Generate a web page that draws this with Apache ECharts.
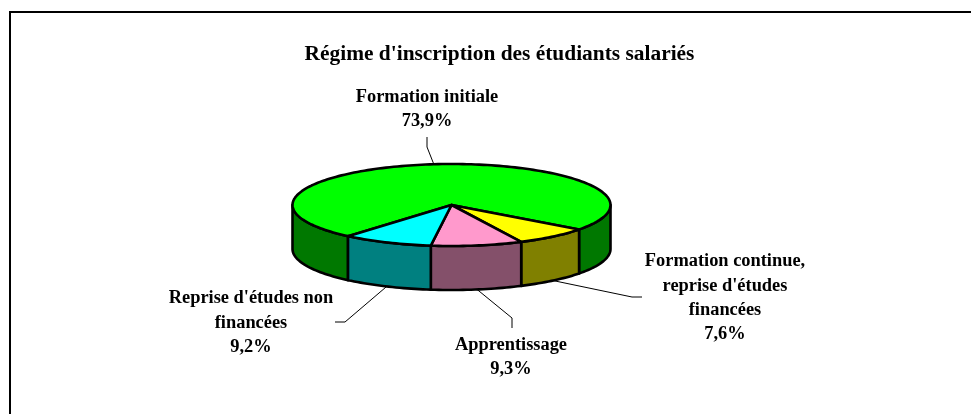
<!DOCTYPE html>
<html><head><meta charset="utf-8">
<style>html,body{margin:0;padding:0;background:#fff}#c{width:971px;height:414px}</style>
<script src="https://cdn.jsdelivr.net/npm/echarts@6/dist/echarts.min.js"></script>
</head><body><div id="c"></div>
<script>
// Data
const categories = ["Formation initiale", "Formation continue,\nreprise d'études\nfinancées", "Apprentissage", "Reprise d'études non\nfinancées"];
const shares = [73.9, 7.6, 9.3, 9.2];
const chartTitle = "Régime d'inscription des étudiants salariés";

// Styles and layout
const topColors = ['#00ff00', '#ffff00', '#ff99cc', '#00ffff'];
const sideColors = ['#007800', '#808000', '#84506a', '#008080'];
const FONT = '"Liberation Serif","Times New Roman",serif';
const CX = 451.5, CY = 205, RX = 159, RY = 41, DEPTH = 44, START = 220.6;
const labelCenters = [[427, 109], [725, 298], [511, 357.5], [251, 323]];
const leaderTails = [
  [[427, 147], [427, 137]],
  [[632, 297], [642, 297]],
  [[512, 318], [512, 328]],
  [[345, 322], [335, 322]]
];

const total = shares.reduce((a, b) => a + b, 0);
const rad = d => d * Math.PI / 180;
const pt = (deg, dy) => [CX + RX * Math.sin(rad(deg)), CY - RY * Math.cos(rad(deg)) + (dy || 0)];
function arc(a, b, dy) {
  const n = Math.max(2, Math.ceil(Math.abs(b - a) / 1.5)), out = [];
  for (let i = 0; i <= n; i++) out.push(pt(a + (b - a) * i / n, dy));
  return out;
}
function sidePoly(a, b, fill) {
  return {
    type: 'polygon', z2: 1,
    shape: { points: arc(a, b, 0).concat(arc(b, a, DEPTH)) },
    style: { fill: fill, stroke: '#000', lineWidth: 2.6, lineJoin: 'round' }
  };
}
// Visible front part of the rim is the span of clock angles 90..270 (mod 360)
function frontSpans(a, b) {
  const spans = [];
  for (const off of [0, 360]) {
    const lo = Math.max(a, 90 + off), hi = Math.min(b, 270 + off);
    if (hi > lo) spans.push([lo, hi]);
  }
  return spans;
}
function renderItem(params, api) {
  const i = params.dataIndex, value = api.value(0);
  let before = 0;
  for (let k = 0; k < i; k++) before += shares[k];
  const a = START + before / total * 360, b = a + value / total * 360, mid = (a + b) / 2;
  const children = [];
  frontSpans(a, b).forEach(s => children.push(sidePoly(s[0], s[1], sideColors[i])));
  children.push({
    type: 'polygon', z2: 2,
    shape: { points: [[CX, CY]].concat(arc(a, b, 0)) },
    style: { fill: topColors[i], stroke: '#000', lineWidth: 2.6, lineJoin: 'round' }
  });
  const m = ((mid % 360) + 360) % 360;
  const anchor = pt(mid, m > 90 && m < 270 ? DEPTH : 0);
  children.push({
    type: 'polyline', z2: 0,
    shape: { points: [anchor].concat(leaderTails[i]) },
    style: { fill: null, stroke: '#000', lineWidth: 1 }
  });
  children.push({
    type: 'text', z2: 4,
    style: {
      x: labelCenters[i][0], y: labelCenters[i][1],
      text: categories[i] + '\n' + value.toFixed(1).replace('.', ',') + '%',
      align: 'center', verticalAlign: 'middle', textAlign: 'center', textVerticalAlign: 'middle',
      font: 'bold 18.4px ' + FONT, lineHeight: 24.4, fill: '#000'
    }
  });
  return { type: 'group', children: children };
}

const chart = echarts.init(document.getElementById('c'));
chart.setOption({
  animation: false,
  backgroundColor: '#fff',
  title: {
    text: chartTitle, left: 494.5, top: 39, textAlign: 'center',
    textStyle: { fontFamily: FONT, fontWeight: 'bold', fontSize: 21.4, color: '#000' }
  },
  graphic: [{
    type: 'polyline', silent: true,
    shape: { points: [[10, 416], [10, 12], [973, 12]] },
    style: { fill: null, stroke: '#000', lineWidth: 2 }
  }],
  series: [{
    type: 'custom', coordinateSystem: 'none', silent: true,
    renderItem: renderItem,
    data: shares.map((v, i) => ({ name: categories[i], value: [v] }))
  }]
});
</script></body></html>
